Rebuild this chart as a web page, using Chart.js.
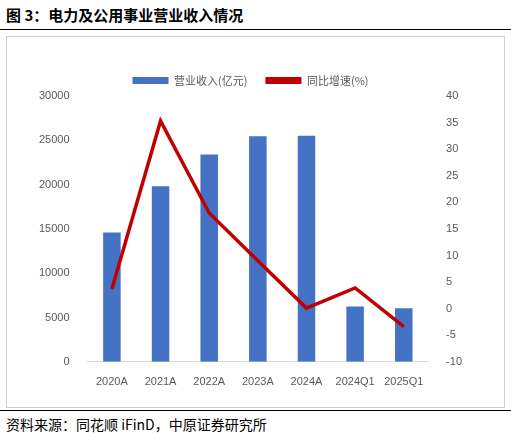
<!DOCTYPE html>
<html><head><meta charset="utf-8">
<script src="https://cdn.jsdelivr.net/npm/chart.js@4"></script>
<style>
body{margin:0;width:511px;height:441px;background:#fff;font-family:"Noto Sans CJK SC",sans-serif;position:relative;overflow:hidden}
#title{position:absolute;left:6px;top:4px;font-size:15px;font-weight:bold;color:#000}
#topline{position:absolute;left:0;top:29px;width:511px;border-top:1.5px solid #000}
#box{position:absolute;left:6px;top:36px;width:497px;height:370px;border:1px solid #d0d0d0}
#src{position:absolute;left:6px;top:414px;font-size:14px;color:#000}
#botline{position:absolute;left:0;top:410px;width:511px;border-top:1px solid #000}
</style></head><body>
<div id="title">图 3：电力及公用事业营业收入情况</div>
<div id="topline"></div>
<div id="box"><canvas id="c" width="497" height="370"></canvas></div>
<div id="botline"></div>
<div id="src">资料来源：同花顺 iFinD，中原证券研究所</div>
<script>
// Data
const categories = ['2020A','2021A','2022A','2023A','2024A','2024Q1','2025Q1'];
const revenue = [14600, 19800, 23400, 25450, 25500, 6250, 6050];
const growth = [3.7, 35.3, 18.0, 9.0, 0.1, 3.9, -3.4];

const ctx = document.getElementById('c').getContext('2d');
new Chart(ctx, {
  data: {
    labels: categories,
    datasets: [
      { type: 'bar', label: '营业收入(亿元)', data: revenue, backgroundColor: '#4472C4', yAxisID: 'y', barPercentage: 0.45, categoryPercentage: 0.8, order: 2 },
      { type: 'line', label: '同比增速(%)', data: growth, borderColor: '#C00000', borderWidth: 3.5, pointRadius: 0, yAxisID: 'y1', tension: 0, order: 1 }
    ]
  },
  options: {
    responsive: false, animation: false,
    layout: { padding: { left: 22, right: 32, top: 20, bottom: 12 } },
    plugins: {
      legend: { labels: { font: { size: 11, family: 'Noto Sans CJK SC' }, color: '#595959', boxWidth: 36, boxHeight: 7, padding: 18,
        generateLabels: (chart) => chart.data.datasets.map((d, i) => ({ text: d.label, fillStyle: i ? '#C00000' : '#4472C4', strokeStyle: i ? '#C00000' : '#4472C4', lineWidth: 0, datasetIndex: i, fontColor: '#595959' })) } },
      tooltip: { enabled: false }
    },
    scales: {
      x: { grid: { display: false }, border: { color: '#d9d9d9' }, ticks: { color: '#595959', font: { size: 11 }, padding: 6 } },
      y: { position: 'left', min: 0, max: 30000, ticks: { stepSize: 5000, color: '#595959', font: { size: 11 }, padding: 10, callback: (v) => String(v) }, grid: { display: false }, border: { display: false } },
      y1: { position: 'right', min: -10, max: 40, ticks: { stepSize: 5, color: '#595959', font: { size: 11 }, padding: 10 }, grid: { display: false }, border: { display: false } }
    }
  }
});
</script>
</body></html>
